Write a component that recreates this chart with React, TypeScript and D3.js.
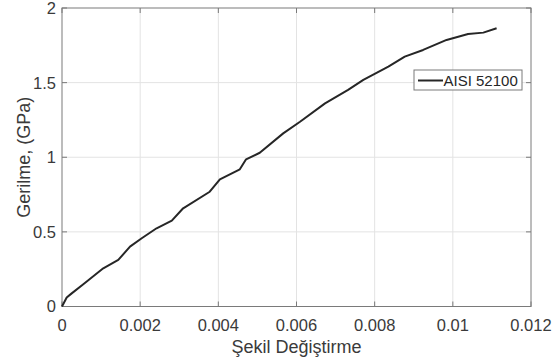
import React, { useEffect, useRef } from "react";
import * as d3 from "d3";

// strain (x) vs stress in GPa (y)
const strain = [
  0, 0.00012, 0.000248, 0.000545, 0.001056, 0.00144, 0.00174, 0.00204, 0.00242,
  0.00281, 0.0031, 0.00378, 0.00404, 0.00455, 0.00471, 0.00506, 0.00566, 0.00609,
  0.00673, 0.00732, 0.00771, 0.00835, 0.00877, 0.00924, 0.00984, 0.01039, 0.01078,
  0.01112,
];
const stress = [
  0, 0.06, 0.088, 0.149, 0.256, 0.312, 0.401, 0.457, 0.524, 0.575, 0.658, 0.769,
  0.852, 0.919, 0.986, 1.03, 1.16, 1.238, 1.361, 1.451, 1.518, 1.607, 1.674, 1.719,
  1.786, 1.826, 1.835, 1.864,
];

const xTicks = [0, 0.002, 0.004, 0.006, 0.008, 0.01, 0.012];
const yTicks = [0, 0.5, 1, 1.5, 2];
const seriesName = "AISI 52100";
const xLabel = "Şekil Değiştirme";
const yLabel = "Gerilme, (GPa)";

const App = () => {
  const svgRef = useRef<SVGSVGElement | null>(null);

  useEffect(() => {
    if (!svgRef.current) return;
    const width = 554;
    const height = 363;
    const margin = { top: 8, right: 23, bottom: 56.5, left: 62 };
    const font = "'Liberation Sans', Arial, sans-serif";
    const axisColor = "#7a7a7a";
    const textColor = "#3a3a3a";

    const svg = d3.select(svgRef.current);
    svg.selectAll("*").remove();
    svg.attr("width", width).attr("height", height);

    const x = d3
      .scaleLinear()
      .domain([0, 0.012])
      .range([margin.left, width - margin.right]);
    const y = d3
      .scaleLinear()
      .domain([0, 2])
      .range([height - margin.bottom, margin.top]);

    const [x0, x1] = x.range();
    const [y0, y1] = y.range();

    // grid
    svg
      .append("g")
      .selectAll("line")
      .data(xTicks.slice(1, -1))
      .join("line")
      .attr("x1", (d) => x(d))
      .attr("x2", (d) => x(d))
      .attr("y1", y0)
      .attr("y2", y1)
      .attr("stroke", "#e3e3e3")
      .attr("stroke-width", 1);
    svg
      .append("g")
      .selectAll("line")
      .data(yTicks.slice(1, -1))
      .join("line")
      .attr("x1", x0)
      .attr("x2", x1)
      .attr("y1", (d) => y(d))
      .attr("y2", (d) => y(d))
      .attr("stroke", "#e3e3e3")
      .attr("stroke-width", 1);

    // box
    svg
      .append("rect")
      .attr("x", x0)
      .attr("y", y1)
      .attr("width", x1 - x0)
      .attr("height", y0 - y1)
      .attr("fill", "none")
      .attr("stroke", axisColor)
      .attr("stroke-width", 1);

    // inward ticks on all sides
    const tl = 5;
    const ticks = svg.append("g").attr("stroke", axisColor).attr("stroke-width", 1);
    xTicks.forEach((t) => {
      ticks.append("line").attr("x1", x(t)).attr("x2", x(t)).attr("y1", y0).attr("y2", y0 - tl);
      ticks.append("line").attr("x1", x(t)).attr("x2", x(t)).attr("y1", y1).attr("y2", y1 + tl);
    });
    yTicks.forEach((t) => {
      ticks.append("line").attr("x1", x0).attr("x2", x0 + tl).attr("y1", y(t)).attr("y2", y(t));
      ticks.append("line").attr("x1", x1).attr("x2", x1 - tl).attr("y1", y(t)).attr("y2", y(t));
    });

    const fmt = d3.format("~g");

    svg
      .append("g")
      .selectAll("text")
      .data(xTicks)
      .join("text")
      .attr("x", (d) => x(d))
      .attr("y", y0 + 24)
      .attr("text-anchor", "middle")
      .attr("fill", textColor)
      .style("font-family", font)
      .style("font-size", "16.5px")
      .text((d) => fmt(d));

    svg
      .append("g")
      .selectAll("text")
      .data(yTicks)
      .join("text")
      .attr("x", x0 - 6)
      .attr("y", (d) => y(d))
      .attr("dy", "0.36em")
      .attr("text-anchor", "end")
      .attr("fill", textColor)
      .style("font-family", font)
      .style("font-size", "16.5px")
      .text((d) => fmt(d));

    // axis labels
    svg
      .append("text")
      .attr("x", (x0 + x1) / 2)
      .attr("y", 353)
      .attr("text-anchor", "middle")
      .attr("fill", textColor)
      .style("font-family", font)
      .style("font-size", "18px")
      .text(xLabel);

    svg
      .append("text")
      .attr("transform", `translate(30,${(y0 + y1) / 2}) rotate(-90)`)
      .attr("text-anchor", "middle")
      .attr("fill", textColor)
      .style("font-family", font)
      .style("font-size", "18px")
      .text(yLabel);

    // the curve
    const pts: [number, number][] = strain.map((s, i) => [s, stress[i]]);
    const line = d3
      .line<[number, number]>()
      .x((d) => x(d[0]))
      .y((d) => y(d[1]));

    svg
      .append("path")
      .datum(pts)
      .attr("fill", "none")
      .attr("stroke", "#262626")
      .attr("stroke-width", 2)
      .attr("stroke-linejoin", "round")
      .attr("d", line);

    // legend
    const legend = svg.append("g").attr("transform", "translate(414,70)");
    legend
      .append("rect")
      .attr("width", 108)
      .attr("height", 20)
      .attr("fill", "#fff")
      .attr("stroke", axisColor)
      .attr("stroke-width", 1);
    legend
      .append("line")
      .attr("x1", 4)
      .attr("x2", 29)
      .attr("y1", 10.5)
      .attr("y2", 10.5)
      .attr("stroke", "#262626")
      .attr("stroke-width", 2);
    legend
      .append("text")
      .attr("x", 29.5)
      .attr("y", 10.5)
      .attr("dy", "0.36em")
      .attr("fill", "#262626")
      .style("font-family", font)
      .style("font-size", "15px")
      .text(seriesName);
  }, []);

  return (
    <svg
      ref={svgRef}
      style={{ position: "absolute", left: 0, top: 0, background: "#fff" }}
    ></svg>
  );
};

export default App;
